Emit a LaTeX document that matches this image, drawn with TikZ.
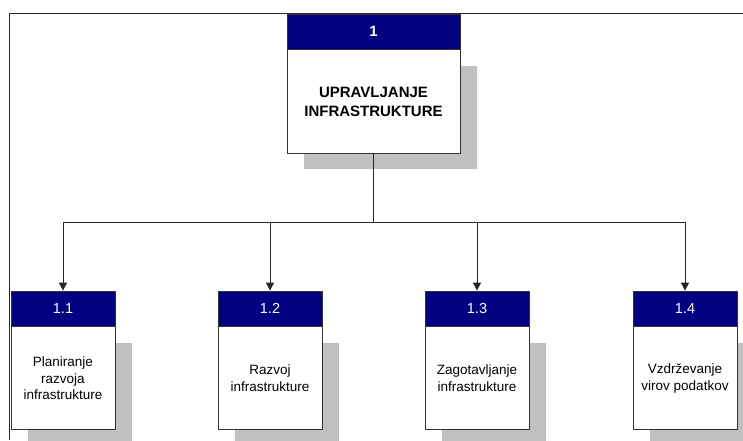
\documentclass[tikz,border=0pt]{standalone}
\usepackage{fontspec}
\setmainfont{Liberation Sans}
\usetikzlibrary{arrows.meta}
\definecolor{navy}{HTML}{000080}
\definecolor{shadowgray}{HTML}{C0C0C0}
\begin{document}
\begin{tikzpicture}[x=1pt,y=-1pt,
  shadowbox/.style={fill=shadowgray},
  tophdr/.style={draw=black!80, line width=0.8pt, fill=navy, text=white, minimum width=173pt, minimum height=35pt, inner sep=0pt, font=\fontsize{15}{17}\selectfont\bfseries},
  topbody/.style={draw=black!80, line width=0.8pt, fill=white, minimum width=173pt, minimum height=104pt, inner sep=0pt, align=center, font=\fontsize{15}{19}\selectfont\bfseries},
  subhdr/.style={draw=black!80, line width=0.8pt, fill=navy, text=white, minimum width=104pt, minimum height=35pt, inner sep=0pt, font=\fontsize{14.5}{16}\selectfont},
  subbody/.style={draw=black!80, line width=0.8pt, fill=white, minimum width=104pt, minimum height=103pt, inner sep=0pt, align=center, font=\fontsize{13.5}{16.5}\selectfont},
  conn/.style={draw=black!85, line width=0.8pt},
  arr/.style={conn, -{Triangle[width=8pt,length=8pt]}}
]
\useasboundingbox (0,0) rectangle (743,440);
% frame
\draw[black!85, line width=1pt] (9,440) -- (9,13) -- (743,13);
% shadows
\fill[shadowgray] (304,66) rectangle (477,169);
\foreach \cx in {63,270,477,685}{
  \fill[shadowgray] (\cx-35,343) rectangle (\cx+69,445);
}
% top box
\node[tophdr] (t1h) at (373.5,31.5) {1};
\node[topbody, anchor=north] (t1) at (t1h.south) {UPRAVLJANJE\\INFRASTRUKTURE};
% sub boxes
\node[subhdr] (b1h) at (63,308.5) {1.1};
\node[subbody, anchor=north] (b1) at (b1h.south) {Planiranje\\razvoja\\infrastrukture};
\node[subhdr] (b2h) at (270,308.5) {1.2};
\node[subbody, anchor=north] (b2) at (b2h.south) {Razvoj\\infrastrukture};
\node[subhdr] (b3h) at (477,308.5) {1.3};
\node[subbody, anchor=north] (b3) at (b3h.south) {Zagotavljanje\\infrastrukture};
\node[subhdr] (b4h) at (685,308.5) {1.4};
\node[subbody, anchor=north] (b4) at (b4h.south) {Vzdrževanje\\virov podatkov};
% connectors
\coordinate (bus) at (373.5,222);
\draw[conn] (t1.south) -- (bus);
\draw[conn] (b1h.north |- bus) -- (b4h.north |- bus);
\draw[arr] (b1h.north |- bus) -- (b1h.north);
\draw[arr] (b2h.north |- bus) -- (b2h.north);
\draw[arr] (b3h.north |- bus) -- (b3h.north);
\draw[arr] (b4h.north |- bus) -- (b4h.north);
\end{tikzpicture}
\end{document}
